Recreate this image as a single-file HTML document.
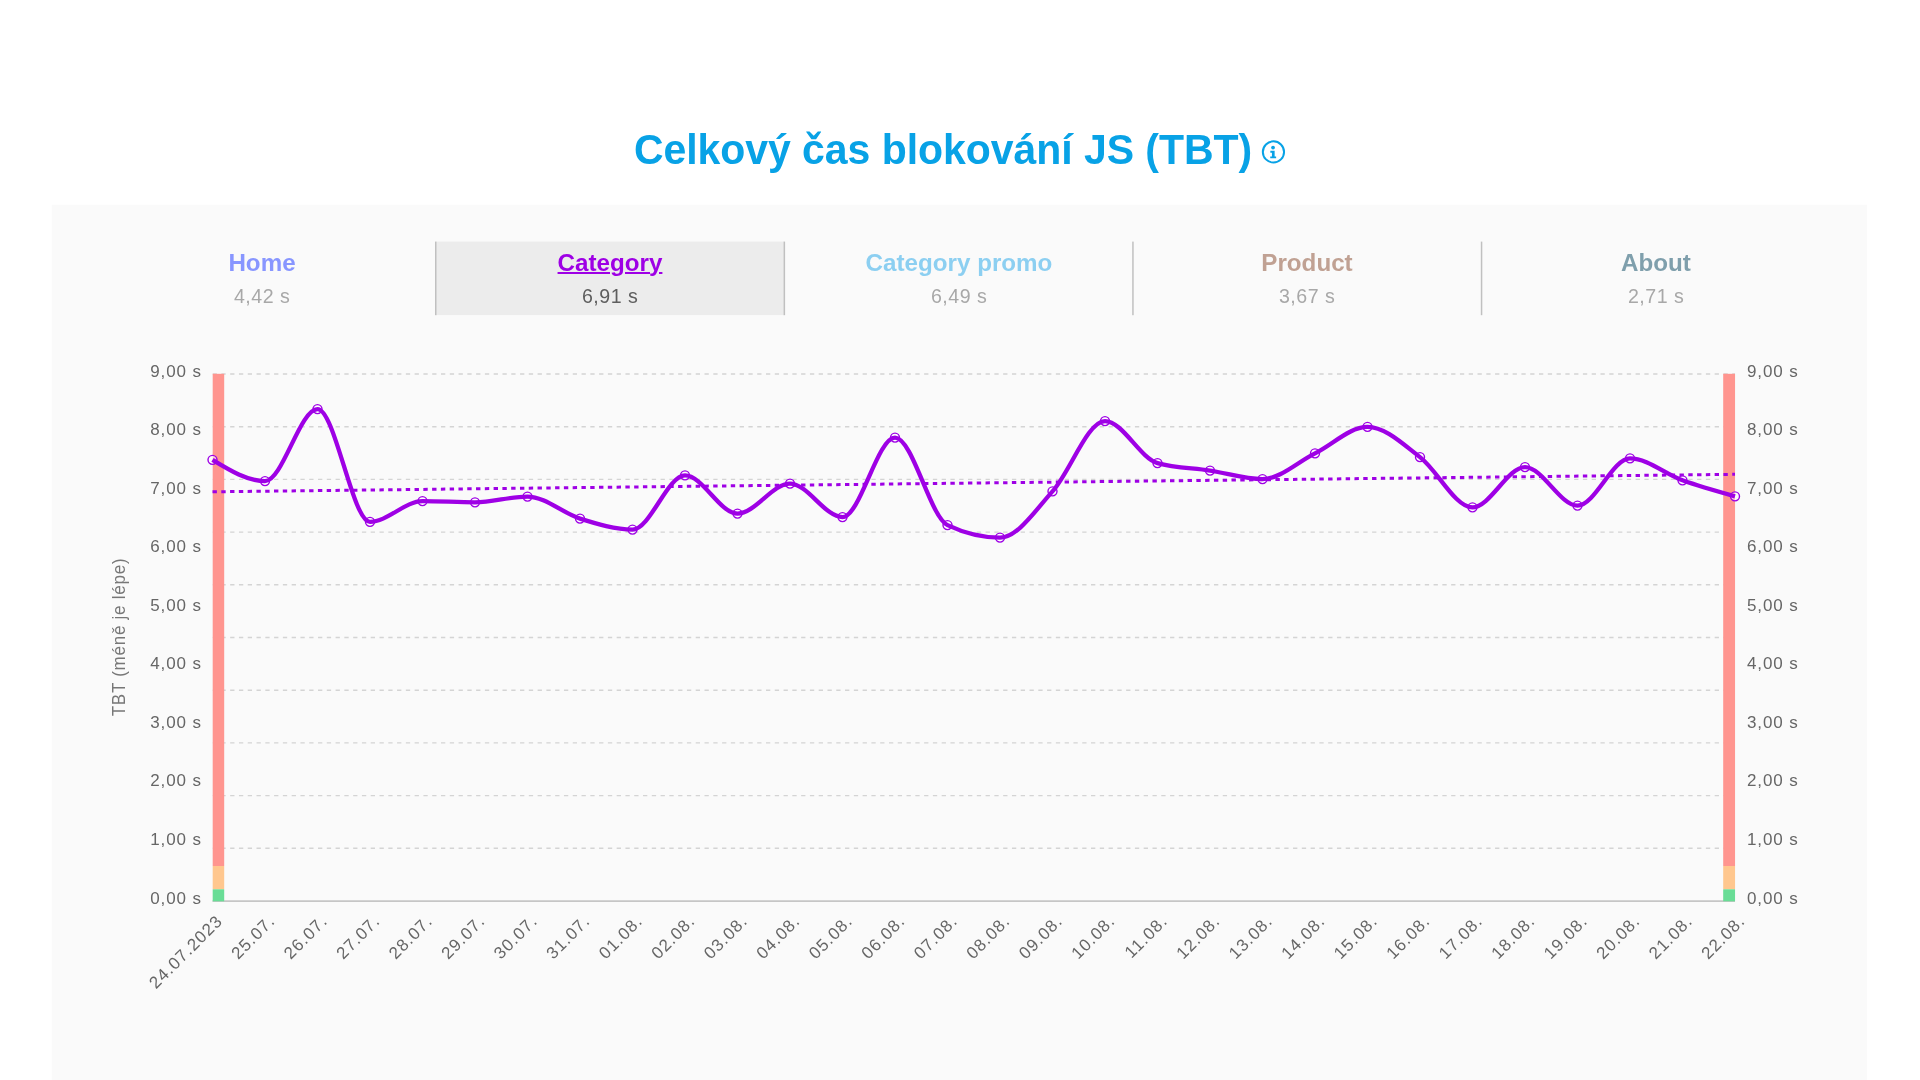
<!DOCTYPE html>
<html lang="cs"><head><meta charset="utf-8"><title>Celkový čas blokování JS (TBT)</title>
<style>
html,body{margin:0;padding:0}
body{width:1920px;height:1080px;overflow:hidden;position:relative;background:#fff;font-family:"Liberation Sans",sans-serif}
h1{will-change:transform;position:absolute;left:0;top:126px;width:1920px;margin:0;text-align:center;font-size:41px;line-height:48px;font-weight:bold;color:#08a2e6;letter-spacing:-0.05px;white-space:nowrap}
h1 span{display:inline-block;transform:translateX(-17px) scaleY(1.045);transform-origin:0 38px}
.tab{will-change:transform;position:absolute;top:241.6px;height:73.5px;text-align:center}
.tn{transform:scaleY(1.0);transform-origin:0 24px;position:absolute;left:1.4px;right:0;top:6px;font-size:24.2px;line-height:30px;font-weight:bold;letter-spacing:0px;white-space:nowrap}
.tv{position:absolute;left:1.6px;right:0;top:42px;font-size:19.6px;line-height:24px;color:#a8a8a8;letter-spacing:0.5px;white-space:nowrap}
.sel .tn{text-decoration:underline;text-decoration-thickness:2px;text-underline-offset:1.3px}
.sel .tv{color:#5e5e5e}
.dv{position:absolute;top:241.6px;height:73.6px;width:1.5px;background:#c0c0c0}
svg text{font-family:"Liberation Sans",sans-serif}
.yl{font-size:17px;fill:#666666;letter-spacing:0.9px}
.xl{font-size:17px;fill:#666666;letter-spacing:1.05px}
.yt{font-size:17px;fill:#777777;letter-spacing:0.75px}
</style></head>
<body>
<h1><span>Celkový čas blokování JS (TBT)</span></h1>
<svg width="1920" height="1080" viewBox="0 0 1920 1080" style="position:absolute;left:0;top:0">
<rect x="51.7" y="204.7" width="1815.3" height="900" fill="#fafafa"/>
<rect x="435.5" y="241.6" width="349" height="73.45" fill="#ececec"/>
<rect x="435.0" y="241.6" width="1.5" height="73.6" fill="#c0c0c0"/>
<rect x="783.6" y="241.6" width="1.5" height="73.6" fill="#c0c0c0"/>
<rect x="1132.2" y="241.6" width="1.5" height="73.6" fill="#c0c0c0"/>
<rect x="1480.8" y="241.6" width="1.5" height="73.6" fill="#c0c0c0"/>
<g transform="translate(1261.64,140.22)"><circle cx="11.8" cy="11.7" r="10.6" fill="none" stroke="#08a2e6" stroke-width="2"/><circle cx="11.4" cy="7.4" r="1.9" fill="#08a2e6"/><path d="M8.7 10.6h4.3v5.6h1.5v1.9h-5.9v-1.9h1.7v-3.7H8.7z" fill="#08a2e6"/></g>
</svg>
<div class="tab" style="left:86.6px;width:348.6px"><div class="tn" style="color:#8896ff">Home</div><div class="tv">4,42 s</div></div>
<div class="tab sel" style="left:435.2px;width:348.6px"><div class="tn" style="color:#9e00e5">Category</div><div class="tv">6,91 s</div></div>
<div class="tab" style="left:783.8px;width:348.6px"><div class="tn" style="color:#8ccff1">Category promo</div><div class="tv">6,49 s</div></div>
<div class="tab" style="left:1132.4px;width:348.6px"><div class="tn" style="color:#c0a193">Product</div><div class="tv">3,67 s</div></div>
<div class="tab" style="left:1481.0px;width:348.6px"><div class="tn" style="color:#7f9fac">About</div><div class="tv">2,71 s</div></div>
<svg width="1920" height="1080" viewBox="0 0 1920 1080" style="position:absolute;left:0;top:0;will-change:transform">
<line x1="212.7" x2="1735" y1="374.00" y2="374.00" stroke="#d4d4d4" stroke-width="1.4" stroke-dasharray="4.3 4.484" stroke-dashoffset="0.1"/>
<line x1="212.7" x2="1735" y1="426.70" y2="426.70" stroke="#d4d4d4" stroke-width="1.4" stroke-dasharray="4.3 4.484" stroke-dashoffset="0.1"/>
<line x1="212.7" x2="1735" y1="479.40" y2="479.40" stroke="#d4d4d4" stroke-width="1.4" stroke-dasharray="4.3 4.484" stroke-dashoffset="0.1"/>
<line x1="212.7" x2="1735" y1="532.10" y2="532.10" stroke="#d4d4d4" stroke-width="1.4" stroke-dasharray="4.3 4.484" stroke-dashoffset="0.1"/>
<line x1="212.7" x2="1735" y1="584.80" y2="584.80" stroke="#d4d4d4" stroke-width="1.4" stroke-dasharray="4.3 4.484" stroke-dashoffset="0.1"/>
<line x1="212.7" x2="1735" y1="637.50" y2="637.50" stroke="#d4d4d4" stroke-width="1.4" stroke-dasharray="4.3 4.484" stroke-dashoffset="0.1"/>
<line x1="212.7" x2="1735" y1="690.20" y2="690.20" stroke="#d4d4d4" stroke-width="1.4" stroke-dasharray="4.3 4.484" stroke-dashoffset="0.1"/>
<line x1="212.7" x2="1735" y1="742.90" y2="742.90" stroke="#d4d4d4" stroke-width="1.4" stroke-dasharray="4.3 4.484" stroke-dashoffset="0.1"/>
<line x1="212.7" x2="1735" y1="795.60" y2="795.60" stroke="#d4d4d4" stroke-width="1.4" stroke-dasharray="4.3 4.484" stroke-dashoffset="0.1"/>
<line x1="212.7" x2="1735" y1="848.30" y2="848.30" stroke="#d4d4d4" stroke-width="1.4" stroke-dasharray="4.3 4.484" stroke-dashoffset="0.1"/>
<line x1="212.5" x2="1735" y1="901.1" y2="901.1" stroke="#c6c6c6" stroke-width="1.7"/>
<rect x="212.7" y="373.8" width="11.5" height="492.2" fill="#ff958f"/>
<rect x="212.7" y="866" width="11.5" height="23.3" fill="#ffc78e"/>
<rect x="212.7" y="889.3" width="11.5" height="12" fill="#69dd96"/>
<rect x="1723.2" y="373.8" width="11.85" height="492.2" fill="#ff958f"/>
<rect x="1723.2" y="866" width="11.85" height="23.3" fill="#ffc78e"/>
<rect x="1723.2" y="889.3" width="11.85" height="12" fill="#69dd96"/>
<text x="201.9" y="903.50" text-anchor="end" class="yl">0,00 s</text>
<text x="1747.0" y="903.50" text-anchor="start" class="yl">0,00 s</text>
<text x="201.9" y="844.99" text-anchor="end" class="yl">1,00 s</text>
<text x="1747.0" y="844.99" text-anchor="start" class="yl">1,00 s</text>
<text x="201.9" y="786.48" text-anchor="end" class="yl">2,00 s</text>
<text x="1747.0" y="786.48" text-anchor="start" class="yl">2,00 s</text>
<text x="201.9" y="727.97" text-anchor="end" class="yl">3,00 s</text>
<text x="1747.0" y="727.97" text-anchor="start" class="yl">3,00 s</text>
<text x="201.9" y="669.46" text-anchor="end" class="yl">4,00 s</text>
<text x="1747.0" y="669.46" text-anchor="start" class="yl">4,00 s</text>
<text x="201.9" y="610.95" text-anchor="end" class="yl">5,00 s</text>
<text x="1747.0" y="610.95" text-anchor="start" class="yl">5,00 s</text>
<text x="201.9" y="552.44" text-anchor="end" class="yl">6,00 s</text>
<text x="1747.0" y="552.44" text-anchor="start" class="yl">6,00 s</text>
<text x="201.9" y="493.93" text-anchor="end" class="yl">7,00 s</text>
<text x="1747.0" y="493.93" text-anchor="start" class="yl">7,00 s</text>
<text x="201.9" y="435.42" text-anchor="end" class="yl">8,00 s</text>
<text x="1747.0" y="435.42" text-anchor="start" class="yl">8,00 s</text>
<text x="201.9" y="376.91" text-anchor="end" class="yl">9,00 s</text>
<text x="1747.0" y="376.91" text-anchor="start" class="yl">9,00 s</text>
<text transform="translate(125.2,637) rotate(-90) scale(1,1.09)" text-anchor="middle" class="yt">TBT (méně je lépe)</text>
<text transform="translate(223.60,922.0) rotate(-45)" text-anchor="end" class="xl">24.07.2023</text>
<text transform="translate(276.10,922.0) rotate(-45)" text-anchor="end" class="xl">25.07.</text>
<text transform="translate(328.60,922.0) rotate(-45)" text-anchor="end" class="xl">26.07.</text>
<text transform="translate(381.10,922.0) rotate(-45)" text-anchor="end" class="xl">27.07.</text>
<text transform="translate(433.60,922.0) rotate(-45)" text-anchor="end" class="xl">28.07.</text>
<text transform="translate(486.10,922.0) rotate(-45)" text-anchor="end" class="xl">29.07.</text>
<text transform="translate(538.60,922.0) rotate(-45)" text-anchor="end" class="xl">30.07.</text>
<text transform="translate(591.10,922.0) rotate(-45)" text-anchor="end" class="xl">31.07.</text>
<text transform="translate(643.60,922.0) rotate(-45)" text-anchor="end" class="xl">01.08.</text>
<text transform="translate(696.10,922.0) rotate(-45)" text-anchor="end" class="xl">02.08.</text>
<text transform="translate(748.60,922.0) rotate(-45)" text-anchor="end" class="xl">03.08.</text>
<text transform="translate(801.10,922.0) rotate(-45)" text-anchor="end" class="xl">04.08.</text>
<text transform="translate(853.60,922.0) rotate(-45)" text-anchor="end" class="xl">05.08.</text>
<text transform="translate(906.10,922.0) rotate(-45)" text-anchor="end" class="xl">06.08.</text>
<text transform="translate(958.60,922.0) rotate(-45)" text-anchor="end" class="xl">07.08.</text>
<text transform="translate(1011.10,922.0) rotate(-45)" text-anchor="end" class="xl">08.08.</text>
<text transform="translate(1063.60,922.0) rotate(-45)" text-anchor="end" class="xl">09.08.</text>
<text transform="translate(1116.10,922.0) rotate(-45)" text-anchor="end" class="xl">10.08.</text>
<text transform="translate(1168.60,922.0) rotate(-45)" text-anchor="end" class="xl">11.08.</text>
<text transform="translate(1221.10,922.0) rotate(-45)" text-anchor="end" class="xl">12.08.</text>
<text transform="translate(1273.60,922.0) rotate(-45)" text-anchor="end" class="xl">13.08.</text>
<text transform="translate(1326.10,922.0) rotate(-45)" text-anchor="end" class="xl">14.08.</text>
<text transform="translate(1378.60,922.0) rotate(-45)" text-anchor="end" class="xl">15.08.</text>
<text transform="translate(1431.10,922.0) rotate(-45)" text-anchor="end" class="xl">16.08.</text>
<text transform="translate(1483.60,922.0) rotate(-45)" text-anchor="end" class="xl">17.08.</text>
<text transform="translate(1536.10,922.0) rotate(-45)" text-anchor="end" class="xl">18.08.</text>
<text transform="translate(1588.60,922.0) rotate(-45)" text-anchor="end" class="xl">19.08.</text>
<text transform="translate(1641.10,922.0) rotate(-45)" text-anchor="end" class="xl">20.08.</text>
<text transform="translate(1693.60,922.0) rotate(-45)" text-anchor="end" class="xl">21.08.</text>
<text transform="translate(1746.10,922.0) rotate(-45)" text-anchor="end" class="xl">22.08.</text>
<line x1="212.5" y1="491.8" x2="1735" y2="474.3" stroke="#9e00e5" stroke-width="3" stroke-dasharray="4.4 4.385"/>
<circle cx="212.50" cy="459.85" r="4.5" fill="rgba(255,255,255,0.55)" stroke="#9e00e5" stroke-width="1.4"/>
<circle cx="265.00" cy="481.10" r="4.5" fill="rgba(255,255,255,0.55)" stroke="#9e00e5" stroke-width="1.4"/>
<circle cx="317.50" cy="409.10" r="4.5" fill="rgba(255,255,255,0.55)" stroke="#9e00e5" stroke-width="1.4"/>
<circle cx="370.00" cy="521.85" r="4.5" fill="rgba(255,255,255,0.55)" stroke="#9e00e5" stroke-width="1.4"/>
<circle cx="422.50" cy="501.10" r="4.5" fill="rgba(255,255,255,0.55)" stroke="#9e00e5" stroke-width="1.4"/>
<circle cx="475.00" cy="502.35" r="4.5" fill="rgba(255,255,255,0.55)" stroke="#9e00e5" stroke-width="1.4"/>
<circle cx="527.50" cy="496.60" r="4.5" fill="rgba(255,255,255,0.55)" stroke="#9e00e5" stroke-width="1.4"/>
<circle cx="580.00" cy="518.60" r="4.5" fill="rgba(255,255,255,0.55)" stroke="#9e00e5" stroke-width="1.4"/>
<circle cx="632.50" cy="529.60" r="4.5" fill="rgba(255,255,255,0.55)" stroke="#9e00e5" stroke-width="1.4"/>
<circle cx="685.00" cy="475.35" r="4.5" fill="rgba(255,255,255,0.55)" stroke="#9e00e5" stroke-width="1.4"/>
<circle cx="737.50" cy="513.60" r="4.5" fill="rgba(255,255,255,0.55)" stroke="#9e00e5" stroke-width="1.4"/>
<circle cx="790.00" cy="483.60" r="4.5" fill="rgba(255,255,255,0.55)" stroke="#9e00e5" stroke-width="1.4"/>
<circle cx="842.50" cy="517.10" r="4.5" fill="rgba(255,255,255,0.55)" stroke="#9e00e5" stroke-width="1.4"/>
<circle cx="895.00" cy="437.60" r="4.5" fill="rgba(255,255,255,0.55)" stroke="#9e00e5" stroke-width="1.4"/>
<circle cx="947.50" cy="525.10" r="4.5" fill="rgba(255,255,255,0.55)" stroke="#9e00e5" stroke-width="1.4"/>
<circle cx="1000.00" cy="537.60" r="4.5" fill="rgba(255,255,255,0.55)" stroke="#9e00e5" stroke-width="1.4"/>
<circle cx="1052.50" cy="491.35" r="4.5" fill="rgba(255,255,255,0.55)" stroke="#9e00e5" stroke-width="1.4"/>
<circle cx="1105.00" cy="421.10" r="4.5" fill="rgba(255,255,255,0.55)" stroke="#9e00e5" stroke-width="1.4"/>
<circle cx="1157.50" cy="463.10" r="4.5" fill="rgba(255,255,255,0.55)" stroke="#9e00e5" stroke-width="1.4"/>
<circle cx="1210.00" cy="470.60" r="4.5" fill="rgba(255,255,255,0.55)" stroke="#9e00e5" stroke-width="1.4"/>
<circle cx="1262.50" cy="479.10" r="4.5" fill="rgba(255,255,255,0.55)" stroke="#9e00e5" stroke-width="1.4"/>
<circle cx="1315.00" cy="453.35" r="4.5" fill="rgba(255,255,255,0.55)" stroke="#9e00e5" stroke-width="1.4"/>
<circle cx="1367.50" cy="426.85" r="4.5" fill="rgba(255,255,255,0.55)" stroke="#9e00e5" stroke-width="1.4"/>
<circle cx="1420.00" cy="457.10" r="4.5" fill="rgba(255,255,255,0.55)" stroke="#9e00e5" stroke-width="1.4"/>
<circle cx="1472.50" cy="507.35" r="4.5" fill="rgba(255,255,255,0.55)" stroke="#9e00e5" stroke-width="1.4"/>
<circle cx="1525.00" cy="467.10" r="4.5" fill="rgba(255,255,255,0.55)" stroke="#9e00e5" stroke-width="1.4"/>
<circle cx="1577.50" cy="505.60" r="4.5" fill="rgba(255,255,255,0.55)" stroke="#9e00e5" stroke-width="1.4"/>
<circle cx="1630.00" cy="458.35" r="4.5" fill="rgba(255,255,255,0.55)" stroke="#9e00e5" stroke-width="1.4"/>
<circle cx="1682.50" cy="480.35" r="4.5" fill="rgba(255,255,255,0.55)" stroke="#9e00e5" stroke-width="1.4"/>
<circle cx="1735.00" cy="496.35" r="4.5" fill="rgba(255,255,255,0.55)" stroke="#9e00e5" stroke-width="1.4"/>
<path d="M212.50,459.85C230.00,470.48 247.50,481.10 265.00,481.10C282.50,481.10 300.00,409.10 317.50,409.10C335.00,409.10 352.50,521.85 370.00,521.85C387.50,521.85 405.00,501.10 422.50,501.10C440.00,501.10 457.50,502.35 475.00,502.35C492.50,502.35 510.00,496.60 527.50,496.60C545.00,496.60 562.50,513.10 580.00,518.60C597.50,524.10 615.00,529.60 632.50,529.60C650.00,529.60 667.50,475.35 685.00,475.35C702.50,475.35 720.00,513.60 737.50,513.60C755.00,513.60 772.50,483.60 790.00,483.60C807.50,483.60 825.00,517.10 842.50,517.10C860.00,517.10 877.50,437.60 895.00,437.60C912.50,437.60 930.00,516.77 947.50,525.10C965.00,533.43 982.50,537.60 1000.00,537.60C1017.50,537.60 1035.00,510.77 1052.50,491.35C1070.00,471.93 1087.50,421.10 1105.00,421.10C1122.50,421.10 1140.00,458.10 1157.50,463.10C1175.00,468.10 1192.50,467.93 1210.00,470.60C1227.50,473.27 1245.00,479.10 1262.50,479.10C1280.00,479.10 1297.50,462.06 1315.00,453.35C1332.50,444.64 1350.00,426.85 1367.50,426.85C1385.00,426.85 1402.50,443.68 1420.00,457.10C1437.50,470.52 1455.00,507.35 1472.50,507.35C1490.00,507.35 1507.50,467.10 1525.00,467.10C1542.50,467.10 1560.00,505.60 1577.50,505.60C1595.00,505.60 1612.50,458.35 1630.00,458.35C1647.50,458.35 1665.00,474.02 1682.50,480.35C1700.00,486.68 1717.50,491.52 1735.00,496.35" fill="none" stroke="#9e00e5" stroke-width="4.3" stroke-linejoin="round"/>
</svg>
</body></html>
